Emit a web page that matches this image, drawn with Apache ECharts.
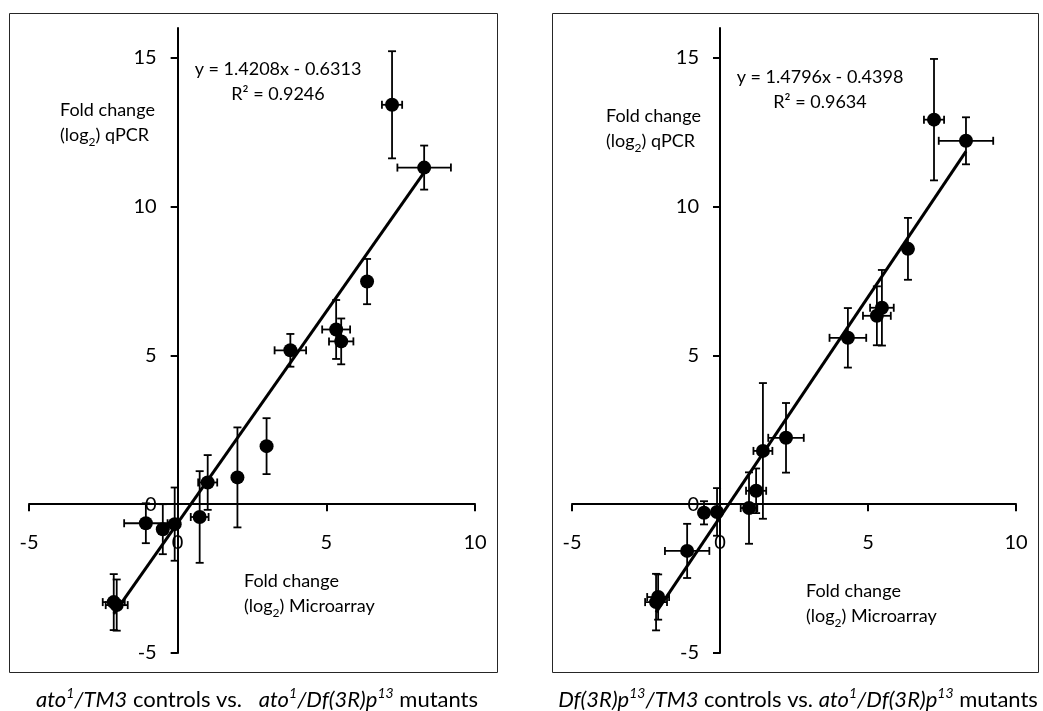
<!DOCTYPE html>
<html>
<head>
<meta charset="utf-8">
<script src="https://cdn.jsdelivr.net/npm/echarts@6/dist/echarts.min.js"></script>
<style>
html,body{margin:0;padding:0;background:#fff;}
#chart{width:1043px;height:711px;}
</style>
</head>
<body>
<div id="chart"></div>
<script>
// ---- data ----
const leftX    = [7.21, 8.29, 6.37, 5.33, 5.50, 3.79, 2.99, 2.01, 1.01, 0.74, -0.10, -0.50, -1.07, -2.15, -2.05];
const leftY    = [13.42, 11.31, 7.48, 5.87, 5.47, 5.17, 1.95, 0.90, 0.73, -0.43, -0.67, -0.84, -0.64, -3.29, -3.39];
const leftXErr = [0.34, 0.90, 0, 0.47, 0.41, 0.53, 0, 0, 0.32, 0.30, 0, 0, 0.73, 0.37, 0.37];
const leftYErr = [1.80, 0.74, 0.76, 0.99, 0.77, 0.55, 0.94, 1.68, 0.92, 1.54, 1.23, 0.84, 0.67, 0.94, 0.86];

const rightX    = [7.23, 8.31, 6.35, 5.47, 5.30, 4.32, 2.23, 1.45, 1.22, 0.98, -0.10, -0.54, -1.11, -2.09, -2.16];
const rightY    = [12.92, 12.21, 8.58, 6.60, 6.33, 5.59, 2.23, 1.79, 0.45, -0.13, -0.26, -0.29, -1.57, -3.12, -3.29];
const rightXErr = [0.34, 0.92, 0, 0.40, 0.47, 0.62, 0.60, 0.32, 0.34, 0.28, 0, 0, 0.75, 0.37, 0.37];
const rightYErr = [2.04, 0.79, 1.04, 1.27, 0.99, 1.00, 1.17, 2.28, 0.75, 1.20, 0.80, 0.39, 0.91, 0.76, 0.95];

const trendSlope     = [1.4208, 1.4796];
const trendIntercept = [-0.6313, -0.4398];
const trendR2        = ['0.9246', '0.9634'];

const xTicks = [-5, 0, 5, 10];
const yTicks = [-5, 0, 5, 10, 15];

// ---- helpers ----
const FONT = 'Lato, "Open Sans", sans-serif';
const TICK_FONT = '20px ' + FONT;
function zip4(a, b, c, d) { return a.map((v, i) => [v, b[i], c[i], d[i]]); }
function zip2(a, b) { return a.map((v, i) => [v, b[i]]); }
function trendData(xs, k) {
  const lo = Math.min.apply(null, xs), hi = Math.max.apply(null, xs);
  return [[lo, trendSlope[k] * lo + trendIntercept[k]], [hi, trendSlope[k] * hi + trendIntercept[k]]];
}
function eqText(k) {
  const b = trendIntercept[k];
  return 'y = ' + trendSlope[k].toFixed(4) + 'x ' + (b < 0 ? '- ' : '+ ') + Math.abs(b).toFixed(4);
}
function errRender(params, api) {
  const x = api.value(0), y = api.value(1), xe = api.value(2), ye = api.value(3);
  const c = api.coord([x, y]);
  const cap = 4;
  const children = [];
  const st = () => ({ stroke: '#000', lineWidth: 1.8 });
  if (ye > 0) {
    const t = api.coord([x, y + ye]), b = api.coord([x, y - ye]);
    children.push({ type: 'line', shape: { x1: c[0], y1: t[1], x2: c[0], y2: b[1] }, style: st() });
    children.push({ type: 'line', shape: { x1: c[0] - cap, y1: t[1], x2: c[0] + cap, y2: t[1] }, style: st() });
    children.push({ type: 'line', shape: { x1: c[0] - cap, y1: b[1], x2: c[0] + cap, y2: b[1] }, style: st() });
  }
  if (xe > 0) {
    const l = api.coord([x - xe, y]), r = api.coord([x + xe, y]);
    children.push({ type: 'line', shape: { x1: l[0], y1: c[1], x2: r[0], y2: c[1] }, style: st() });
    children.push({ type: 'line', shape: { x1: l[0], y1: c[1] - cap, x2: l[0], y2: c[1] + cap }, style: st() });
    children.push({ type: 'line', shape: { x1: r[0], y1: c[1] - cap, x2: r[0], y2: c[1] + cap }, style: st() });
  }
  return { type: 'group', children: children };
}
// tick labels placed at the crossing axes (value 0 of the other axis)
function xLabelRender(params, api) {
  const p = api.coord([api.value(0), 0]);
  return { type: 'text', x: p[0], y: p[1] + 28,
    style: { text: String(api.value(0)), font: TICK_FONT, fill: '#000', textAlign: 'center', textVerticalAlign: 'top' } };
}
function yLabelRender(params, api) {
  const p = api.coord([0, api.value(1)]);
  return { type: 'text', x: p[0] - 21, y: p[1],
    style: { text: String(api.value(1)), font: TICK_FONT, fill: '#000', textAlign: 'right', textVerticalAlign: 'middle' } };
}
function xAxisDef(gi) {
  return {
    type: 'value', gridIndex: gi, min: -5, max: 10, interval: 5,
    axisLine: { onZero: true, lineStyle: { color: '#000', width: 2 } },
    axisTick: { show: true, length: 7, inside: false, customValues: xTicks, lineStyle: { color: '#000', width: 2 } },
    axisLabel: { show: false },
    splitLine: { show: false }
  };
}
function yAxisDef(gi) {
  return {
    type: 'value', gridIndex: gi, min: -5, max: 16, interval: 5,
    axisLine: { onZero: true, lineStyle: { color: '#000', width: 2 } },
    axisTick: { show: true, length: 7, inside: false, customValues: yTicks, lineStyle: { color: '#000', width: 2 } },
    axisLabel: { show: false },
    splitLine: { show: false }
  };
}
function panelSeries(gi, xs, ys, xe, ye) {
  return [
    { type: 'custom', xAxisIndex: gi, yAxisIndex: gi, renderItem: xLabelRender,
      data: xTicks.map(v => [v, 0]), encode: { x: 0, y: 1 }, silent: true, z: 1, clip: false },
    { type: 'custom', xAxisIndex: gi, yAxisIndex: gi, renderItem: yLabelRender,
      data: yTicks.map(v => [0, v]), encode: { x: 0, y: 1 }, silent: true, z: 1, clip: false },
    { type: 'custom', xAxisIndex: gi, yAxisIndex: gi, renderItem: errRender,
      data: zip4(xs, ys, xe, ye), encode: { x: 0, y: 1 }, silent: true, z: 2, clip: false },
    { type: 'line', xAxisIndex: gi, yAxisIndex: gi, data: trendData(xs, gi), showSymbol: false,
      lineStyle: { color: '#000', width: 3 }, silent: true, z: 3 },
    { type: 'scatter', xAxisIndex: gi, yAxisIndex: gi, data: zip2(xs, ys), symbol: 'circle', symbolSize: 14,
      itemStyle: { color: '#000', opacity: 1 }, silent: true, z: 4 }
  ];
}
function titleText(x, y, second) {
  return {
    type: 'text', x: x, y: y, silent: true,
    style: {
      text: 'Fold change\n(log{sub|2}) ' + second,
      font: '18px ' + FONT, fill: '#000', lineHeight: 25,
      rich: { sub: { fontSize: 12, fontFamily: FONT, fill: '#000', verticalAlign: 'bottom', lineHeight: 18 } }
    }
  };
}
function eqGraphic(x, y, k) {
  return {
    type: 'text', x: x, y: y, silent: true,
    style: {
      text: eqText(k) + '\nR² = ' + trendR2[k],
      font: '18px ' + FONT, fill: '#000', lineHeight: 25, align: 'center', textAlign: 'center'
    }
  };
}
const capRich = {
  i: { fontSize: 22, fontStyle: 'italic', fontFamily: FONT, fill: '#000', lineHeight: 28 },
  s: { fontSize: 14, fontStyle: 'italic', fontFamily: FONT, fill: '#000', verticalAlign: 'top', lineHeight: 15 },
  n: { fontSize: 22, fontFamily: FONT, fill: '#000', lineHeight: 28 }
};
function caption(x, y, text) {
  return {
    type: 'text', x: x, y: y, silent: true,
    style: { text: text, rich: capRich, font: '22px ' + FONT, fill: '#000', align: 'center', textAlign: 'center', verticalAlign: 'middle', textVerticalAlign: 'middle' }
  };
}

const chart = echarts.init(document.getElementById('chart'), null, { renderer: 'canvas' });
chart.setOption({
  animation: false,
  backgroundColor: '#fff',
  grid: [
    { left: 29, top: 28, width: 446, height: 625, containLabel: false, outerBoundsMode: 'none' },
    { left: 572, top: 28, width: 444, height: 625, containLabel: false, outerBoundsMode: 'none' }
  ],
  xAxis: [xAxisDef(0), xAxisDef(1)],
  yAxis: [yAxisDef(0), yAxisDef(1)],
  series: panelSeries(0, leftX, leftY, leftXErr, leftYErr).concat(panelSeries(1, rightX, rightY, rightXErr, rightYErr)),
  graphic: [
    { type: 'rect', shape: { x: 9.5, y: 13.5, width: 488, height: 659 }, style: { fill: null, stroke: '#262626', lineWidth: 1 }, silent: true, z: -1 },
    { type: 'rect', shape: { x: 552.5, y: 13.5, width: 486, height: 659 }, style: { fill: null, stroke: '#262626', lineWidth: 1 }, silent: true, z: -1 },
    eqGraphic(278, 57, 0),
    eqGraphic(820, 65, 1),
    titleText(60, 98, 'qPCR'),
    titleText(606, 104, 'qPCR'),
    titleText(244, 569, 'Microarray'),
    titleText(806, 579, 'Microarray'),
    caption(257, 700, '{i|ato}{s|1}{i|/TM3}{n| controls vs.   }{i|ato}{s|1}{i|/Df(3R)p}{s|13}{n| mutants}'),
    caption(798, 700, '{i|Df(3R)p}{s|13}{i|/TM3}{n| controls vs. }{i|ato}{s|1}{i|/Df(3R)p}{s|13}{n| mutants}')
  ]
});
</script>
</body>
</html>
